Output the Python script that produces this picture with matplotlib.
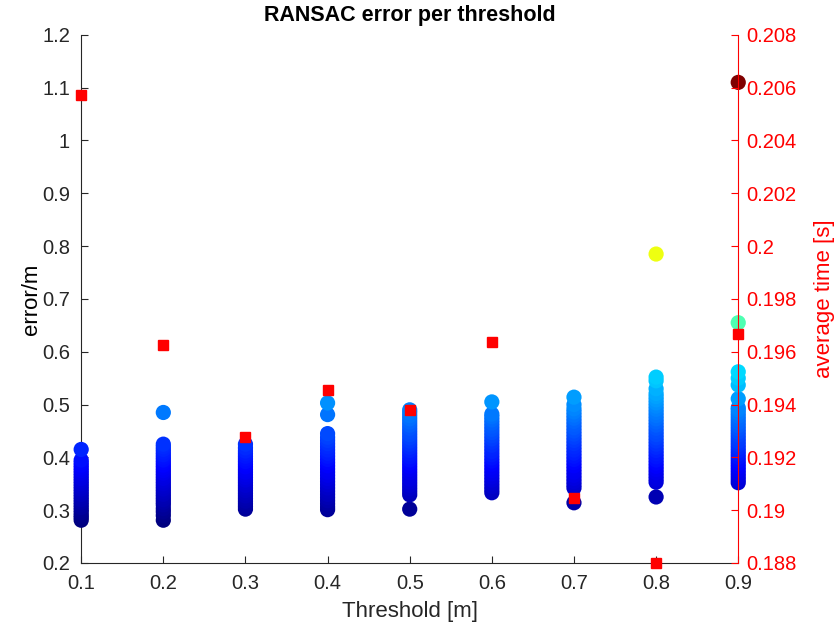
import numpy as np
import matplotlib.pyplot as plt
from matplotlib.colors import LinearSegmentedColormap
from matplotlib.ticker import FuncFormatter

plt.rcParams['font.family'] = ['Liberation Sans', 'DejaVu Sans']

# error per threshold
thresholds = [0.1, 0.2, 0.3, 0.4, 0.5, 0.6, 0.7, 0.8, 0.9]
err_01 = [0.281, 0.286, 0.29, 0.295, 0.30, 0.305, 0.31, 0.315, 0.32, 0.325, 0.33, 0.335,
          0.34, 0.345, 0.35, 0.355, 0.36, 0.365, 0.37, 0.375, 0.38, 0.385, 0.39, 0.395, 0.415]
err_02 = [0.281, 0.29, 0.297, 0.303, 0.31, 0.315, 0.32, 0.325, 0.33, 0.335, 0.34, 0.345, 0.35,
          0.355, 0.36, 0.365, 0.37, 0.375, 0.38, 0.385, 0.39, 0.395, 0.40, 0.405, 0.41, 0.415,
          0.42, 0.425, 0.485]
err_03 = [0.302, 0.307, 0.312, 0.317, 0.322, 0.327, 0.332, 0.337, 0.342, 0.347, 0.352, 0.357,
          0.362, 0.367, 0.372, 0.377, 0.382, 0.387, 0.392, 0.397, 0.402, 0.407, 0.412, 0.418, 0.425]
err_04 = [0.301, 0.306, 0.312, 0.318, 0.324, 0.33, 0.336, 0.342, 0.348, 0.354, 0.36, 0.366,
          0.372, 0.378, 0.384, 0.39, 0.396, 0.402, 0.408, 0.414, 0.42, 0.426, 0.432, 0.438,
          0.445, 0.481, 0.503]
err_05 = [0.302, 0.329, 0.335, 0.341, 0.347, 0.353, 0.359, 0.365, 0.371, 0.377, 0.383, 0.389,
          0.395, 0.401, 0.407, 0.413, 0.419, 0.425, 0.431, 0.437, 0.443, 0.449, 0.455, 0.461,
          0.467, 0.473, 0.479, 0.485, 0.49]
err_06 = [0.333, 0.339, 0.345, 0.351, 0.357, 0.363, 0.369, 0.375, 0.381, 0.387, 0.393, 0.399,
          0.405, 0.411, 0.417, 0.423, 0.429, 0.435, 0.441, 0.447, 0.453, 0.459, 0.465, 0.471,
          0.477, 0.482, 0.505]
err_07 = [0.314, 0.342, 0.348, 0.354, 0.36, 0.366, 0.372, 0.378, 0.384, 0.39, 0.396, 0.402,
          0.408, 0.414, 0.42, 0.426, 0.432, 0.438, 0.444, 0.45, 0.456, 0.462, 0.468, 0.474,
          0.48, 0.486, 0.492, 0.50, 0.514]
err_08 = [0.325, 0.353, 0.359, 0.365, 0.371, 0.377, 0.383, 0.389, 0.395, 0.401, 0.407, 0.413,
          0.419, 0.425, 0.431, 0.437, 0.443, 0.449, 0.455, 0.461, 0.467, 0.473, 0.479, 0.485,
          0.491, 0.497, 0.503, 0.509, 0.515, 0.521, 0.53, 0.545, 0.552, 0.785]
err_09 = [0.352, 0.358, 0.364, 0.37, 0.376, 0.382, 0.388, 0.394, 0.40, 0.406, 0.412, 0.418,
          0.424, 0.43, 0.436, 0.442, 0.448, 0.454, 0.46, 0.466, 0.472, 0.478, 0.484, 0.49,
          0.494, 0.511, 0.537, 0.55, 0.562, 0.655, 1.11]
errors = [err_01, err_02, err_03, err_04, err_05, err_06, err_07, err_08, err_09]

# average time per threshold
avg_time = [0.20573, 0.19626, 0.19277, 0.19455, 0.19380, 0.19637, 0.19046, 0.1880, 0.19667]

xs = np.concatenate([[t] * len(e) for t, e in zip(thresholds, errors)])
ys = np.concatenate(errors)

# matlab-style jet
mjet = LinearSegmentedColormap.from_list('mjet', [
    (0.0, (0, 0, 0.5)), (0.125, (0, 0, 1)), (0.375, (0, 1, 1)),
    (0.625, (1, 1, 0)), (0.875, (1, 0, 0)), (1.0, (0.5, 0, 0))])

fig = plt.figure(figsize=(8.37, 6.34), dpi=100)
ax = fig.add_axes([0.097, 0.112, 0.785, 0.833])
ax.scatter(xs, ys, c=ys, cmap=mjet, vmin=ys.min(), vmax=ys.max(), s=120,
           edgecolors='none', clip_on=False, zorder=3)
ax.set_xlim(0.1, 0.9)
ax.set_ylim(0.2, 1.2)
ax.set_xticks(thresholds)
ax.set_yticks(np.arange(0.2, 1.21, 0.1))
ax.yaxis.set_major_formatter(FuncFormatter(lambda v, p: '%g' % round(v, 3)))
ax.xaxis.set_major_formatter(FuncFormatter(lambda v, p: '%g' % round(v, 3)))
ax.set_xlabel('Threshold [m]', fontsize=16, color='#262626', labelpad=6)
ax.set_ylabel('error/m', fontsize=16, color='black', labelpad=0)
ax.set_title('RANSAC error per threshold', fontsize=15.5, fontweight='bold', pad=10)
ax.tick_params(direction='in', labelsize=14.5, colors='#262626', length=5, pad=8)
ax.spines['top'].set_visible(False)
ax.spines['right'].set_visible(False)
for s in ['left', 'bottom']:
    ax.spines[s].set_color('#262626')

ax2 = ax.twinx()
ax2.plot(thresholds, avg_time, 's', color='red', markersize=6.5, clip_on=False, zorder=4)
ax2.set_ylim(0.188, 0.208)
ax2.set_yticks(np.arange(0.188, 0.2081, 0.002))
ax2.yaxis.set_major_formatter(FuncFormatter(lambda v, p: '%g' % round(v, 4)))
ax2.set_ylabel('average time [s]', fontsize=16, color='red', labelpad=12)
ax2.tick_params(direction='in', labelsize=14.5, colors='red', length=5, pad=6)
ax2.spines['right'].set_color('red')
ax2.spines['top'].set_visible(False)
ax2.spines['left'].set_visible(False)
ax2.spines['bottom'].set_visible(False)

fig.savefig('out.png', dpi=100)
